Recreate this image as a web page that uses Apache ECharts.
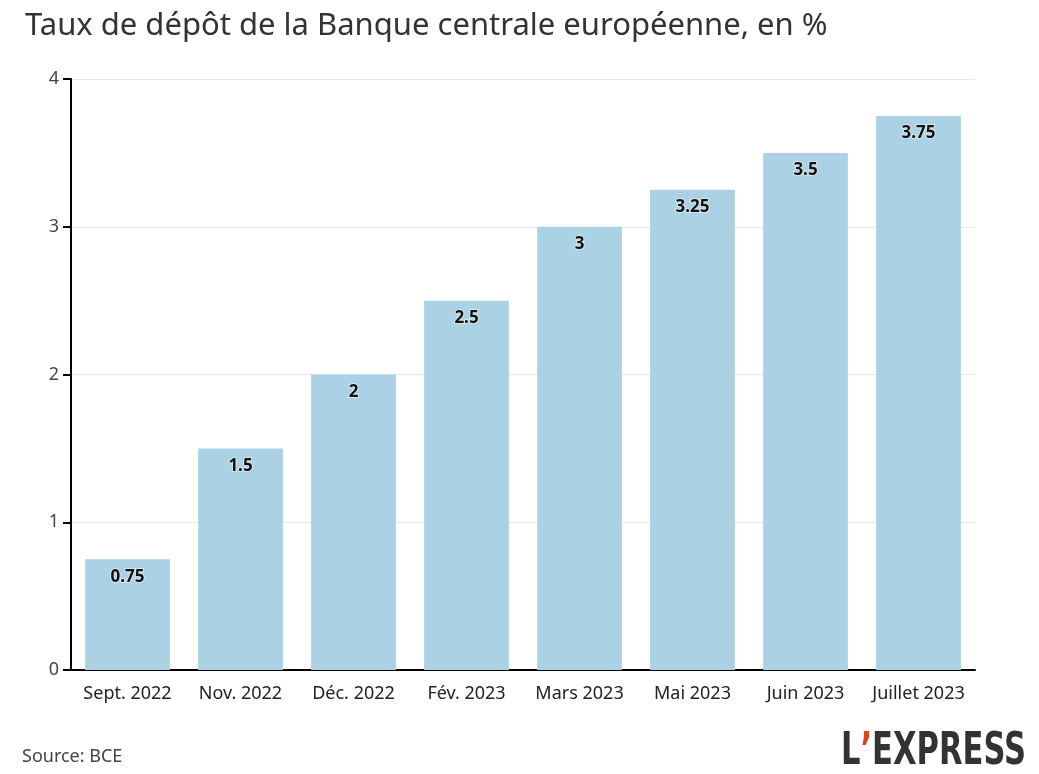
<!DOCTYPE html>
<html>
<head>
<meta charset="utf-8">
<script src="https://cdn.jsdelivr.net/npm/echarts@6/dist/echarts.min.js"></script>
<style>
  html, body { margin: 0; padding: 0; background: #fff; }
  #chart { width: 1039px; height: 774px; }
</style>
</head>
<body>
<div id="chart"></div>
<script>
const categories = ["Sept. 2022", "Nov. 2022", "Déc. 2022", "Fév. 2023", "Mars 2023", "Mai 2023", "Juin 2023", "Juillet 2023"];
const rates = [0.75, 1.5, 2, 2.5, 3, 3.25, 3.5, 3.75];
const yTicks = [0, 1, 2, 3, 4];

const font = "'Noto Sans', sans-serif";
const logoFont = "'DejaVu Sans Condensed', sans-serif";
const chart = echarts.init(document.getElementById("chart"));

chart.setOption({
  backgroundColor: "#fff",
  animation: false,
  title: {
    text: "Taux de dépôt de la Banque centrale européenne, en %",
    left: 20,
    top: 6,
    textStyle: { fontFamily: font, fontSize: 31, fontWeight: "normal", color: "#333" }
  },
  grid: { left: 71, right: 64, top: 79, bottom: 104 },
  xAxis: {
    type: "category",
    data: categories,
    axisLine: { lineStyle: { color: "#000", width: 2 } },
    axisTick: { alignWithLabel: true, length: 6, lineStyle: { color: "#333" } },
    axisLabel: { interval: 0, fontFamily: font, fontSize: 18, color: "#222", margin: 15 }
  },
  yAxis: {
    type: "value",
    min: yTicks[0],
    max: yTicks[yTicks.length - 1],
    interval: 1,
    axisLine: { show: true, lineStyle: { color: "#000", width: 2 } },
    axisTick: { show: true, length: 8, lineStyle: { color: "#000", width: 2 } },
    axisLabel: { fontFamily: font, fontSize: 18, color: "#444", margin: 12 },
    splitLine: { lineStyle: { color: "#e8e8e8" } }
  },
  series: [{
    type: "bar",
    data: rates,
    barWidth: "75%",
    itemStyle: { color: "#abd1e5" },
    label: {
      show: true,
      position: "insideTop",
      distance: 9,
      fontFamily: font,
      fontSize: 17,
      fontWeight: "bold",
      color: "#111",
      textBorderColor: "rgba(255,255,255,0.5)",
      textBorderWidth: 2
    }
  }],
  graphic: [
    {
      type: "text",
      left: 22,
      top: 748,
      style: { text: "Source: BCE", fontFamily: font, fontSize: 18, fill: "#444" }
    },
    {
      type: "text",
      x: 841,
      y: 730,
      scaleY: 1.3,
      style: {
        text: "{l|L}{a|’}{e|EXPRESS}",
        rich: {
          l: { fontFamily: logoFont, fontSize: 34, fontWeight: "bold", fill: "#333" },
          a: { fontFamily: logoFont, fontSize: 34, fontWeight: "bold", fill: "#e2401c" },
          e: { fontFamily: logoFont, fontSize: 34, fontWeight: "bold", fill: "#333" }
        }
      }
    }
  ]
});
</script>
</body>
</html>
